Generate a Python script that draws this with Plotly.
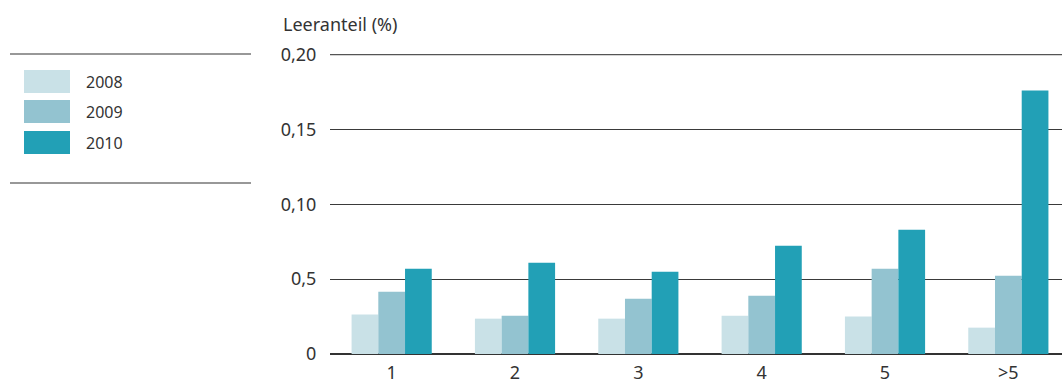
import plotly.graph_objects as go

categories = ["1", "2", "3", "4", "5", ">5"]
years = ["2008", "2009", "2010"]
values_2008 = [0.0263, 0.0236, 0.0236, 0.0256, 0.0250, 0.0176]
values_2009 = [0.0416, 0.0256, 0.0369, 0.0389, 0.0569, 0.0522]
values_2010 = [0.0569, 0.0609, 0.0549, 0.0722, 0.0829, 0.1760]
colors = ["#c9e1e7", "#93c3d0", "#22a0b6"]
ytick_vals = [0, 0.05, 0.10, 0.15, 0.20]
ytick_text = ["0", "0,5", "0,10", "0,15", "0,20"]
y_title = "Leeranteil (%)"

W, H = 1062, 383
L, R, T, B = 330, 0, 54, 29
PW, PH = W - L - R, H - T - B
FONT = "Noto Sans"
TXT = "#333333"

def px(x):
    return (x - L) / PW

def py(y):
    return (H - B - y) / PH

fig = go.Figure()
for name, vals, col in zip(years, [values_2008, values_2009, values_2010], colors):
    fig.add_trace(go.Bar(x=categories, y=vals, name=name, marker_color=col,
                         marker_line_width=0, showlegend=False))

fig.update_layout(
    width=W, height=H,
    margin=dict(l=L, r=R, t=T, b=B, pad=0),
    paper_bgcolor="white", plot_bgcolor="white",
    barmode="group", bargap=0.35, bargroupgap=0,
    font=dict(family=FONT, color=TXT, size=18),
    xaxis=dict(range=[-0.5, 5.435], showgrid=False, showline=False, zeroline=False,
               automargin=False,
               ticks="outside", ticklen=2, tickcolor="rgba(0,0,0,0)",
               tickfont=dict(size=18, color=TXT)),
    yaxis=dict(range=[0, 0.2003], tickvals=ytick_vals, ticktext=ytick_text,
               automargin=False,
               showgrid=True, gridcolor="#3a3a3a", gridwidth=1.2,
               zeroline=True, zerolinecolor="#333333", zerolinewidth=2,
               showline=False, ticks="outside", ticklen=9, tickcolor="rgba(0,0,0,0)",
               tickfont=dict(size=18, color=TXT)),
)

# top gridline (at the range edge)
fig.add_shape(type="line", xref="paper", yref="y", x0=0, x1=1,
              y0=ytick_vals[-1], y1=ytick_vals[-1], line=dict(color="#555555", width=1.4),
              layer="below")

# axis title
fig.add_annotation(text=y_title, xref="paper", yref="paper", x=px(281), y=py(24),
                   xanchor="left", yanchor="middle", showarrow=False,
                   font=dict(size=18, color=TXT))

# manual legend
for yy in [54, 183]:
    fig.add_shape(type="line", xref="paper", yref="paper", x0=px(10), x1=px(251),
                  y0=py(yy), y1=py(yy), line=dict(color="#333333", width=1.2))
sw_tops = [70, 100, 131]
for name, col, top in zip(years, colors, sw_tops):
    fig.add_shape(type="rect", xref="paper", yref="paper", x0=px(24), x1=px(70),
                  y0=py(top + 23), y1=py(top), fillcolor=col, line=dict(width=0))
    fig.add_annotation(text=name, xref="paper", yref="paper", x=px(84), y=py(top + 11.5),
                       xanchor="left", yanchor="middle", showarrow=False,
                       font=dict(size=16, color=TXT))

fig.write_html("out.html")
